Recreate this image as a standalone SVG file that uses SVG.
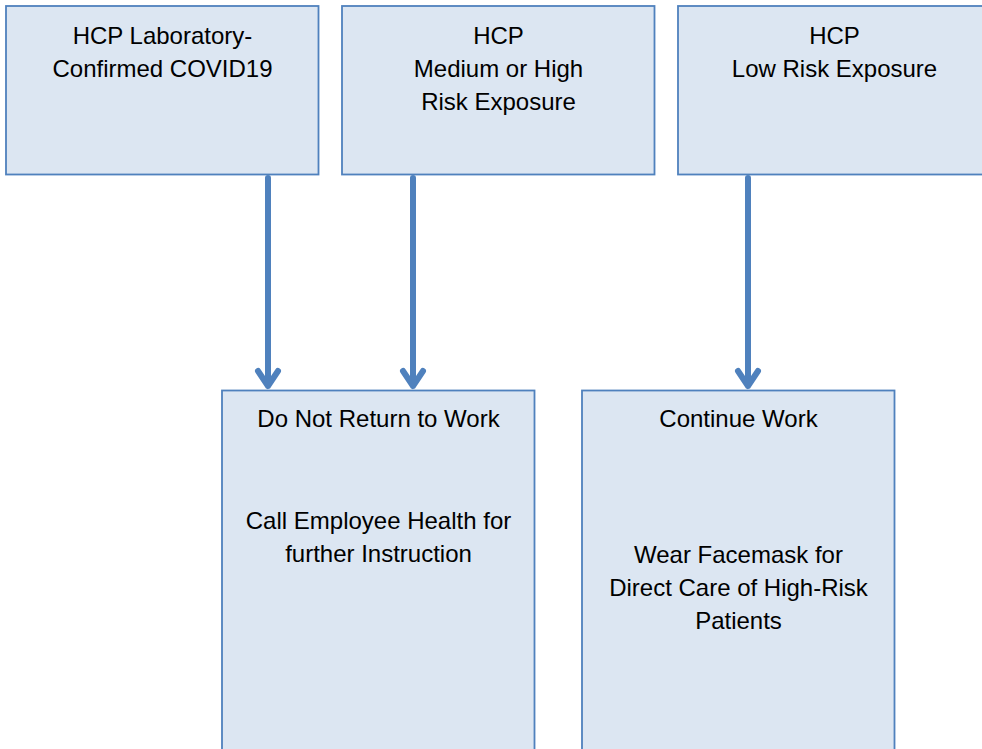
<svg xmlns="http://www.w3.org/2000/svg" width="982" height="749" viewBox="0 0 982 749">
<style>
.box{fill:#dce6f2;stroke:#4f81bd;stroke-width:1.8}
.t{font-family:"Liberation Sans",Arial,sans-serif;font-size:24px;fill:#000;text-anchor:middle}
.c{stroke:#4f81bd;stroke-width:6;fill:none;stroke-linecap:round;stroke-linejoin:round}
</style>
<rect width="982" height="749" fill="#fff"/>
<g id="n1"><rect class="box" x="6" y="6" width="312.5" height="168.5"/>
<text class="t" x="162.5" y="44">HCP Laboratory-</text><text class="t" x="162.5" y="77">Confirmed COVID19</text></g>
<g id="n2"><rect class="box" x="342" y="6" width="312.5" height="168.5"/>
<text class="t" x="498.5" y="44">HCP</text><text class="t" x="498.5" y="77">Medium or High</text><text class="t" x="498.5" y="110">Risk Exposure</text></g>
<g id="n3"><rect class="box" x="678" y="6" width="312.5" height="168.5"/>
<text class="t" x="834.5" y="44">HCP</text><text class="t" x="834.5" y="77">Low Risk Exposure</text></g>
<g id="n4"><rect class="box" x="222" y="390.5" width="312.5" height="370"/>
<text class="t" x="378.5" y="427">Do Not Return to Work</text><text class="t" x="378.5" y="529">Call Employee Health for</text><text class="t" x="378.5" y="562">further Instruction</text></g>
<g id="n5"><rect class="box" x="582" y="390.5" width="312.5" height="370"/>
<text class="t" x="738.5" y="427">Continue Work</text><text class="t" x="738.5" y="563">Wear Facemask for</text><text class="t" x="738.5" y="596">Direct Care of High-Risk</text><text class="t" x="738.5" y="629">Patients</text></g>
<g id="connectors">
<path class="c" d="M268 178V386M258 371L268 386L278 371"/>
<path class="c" d="M413 178V386M403 371L413 386L423 371"/>
<path class="c" d="M748 178V386M738 371L748 386L758 371"/>
</g>
</svg>
